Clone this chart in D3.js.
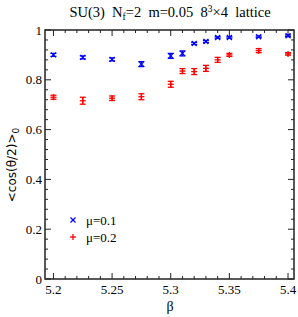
<!DOCTYPE html>
<html><head><meta charset="utf-8">
<script src="https://cdn.jsdelivr.net/npm/d3@7"></script>
<style>body{margin:0;background:#fff}svg{display:block}text,tspan{white-space:pre}</style>
</head><body>
<script>
const betas = [5.2, 5.225, 5.25, 5.275, 5.3, 5.31, 5.32, 5.33, 5.34, 5.35, 5.375, 5.4];
const mu01 = [0.900, 0.890, 0.882, 0.863, 0.896, 0.906, 0.946, 0.954, 0.970, 0.970, 0.973, 0.977];
const mu01Err = [0.006, 0.006, 0.006, 0.010, 0.010, 0.010, 0.004, 0.004, 0.003, 0.003, 0.003, 0.003];
const mu02 = [0.730, 0.716, 0.726, 0.732, 0.782, 0.835, 0.833, 0.846, 0.880, 0.900, 0.917, 0.904];
const mu02Err = [0.008, 0.014, 0.009, 0.012, 0.012, 0.010, 0.012, 0.012, 0.010, 0.006, 0.008, 0.005];
const xTicks = [5.2, 5.25, 5.3, 5.35, 5.4];
const xTickLabels = ["5.2", "5.25", "5.3", "5.35", "5.4"];
const yTicks = [0, 0.2, 0.4, 0.6, 0.8, 1];
const yTickLabels = ["0", "0.2", "0.4", "0.6", "0.8", "1"];

const W = 298, H = 317;
const L = 45, R = 294, T = 30, B = 279;
const svg = d3.select("body").append("svg").attr("width", W).attr("height", H);
const x = d3.scaleLinear().domain([5.1928, 5.4051]).range([L, R]);
const y = d3.scaleLinear().domain([0, 1]).range([B, T]);
const serif = "'Liberation Serif','Times New Roman',serif";

// ticks (inward, on all four sides)
const xMinor = d3.range(5.2, 5.4001, 0.01);
const yMinor = d3.range(0, 1.0001, 0.04);
const g = svg.append("g").attr("stroke", "#222").attr("stroke-width", 1);
xMinor.forEach(v => {
  const major = xTicks.some(t => Math.abs(t - v) < 1e-6);
  const len = major ? 6 : 3;
  g.append("line").attr("x1", x(v)).attr("x2", x(v)).attr("y1", B).attr("y2", B - len);
  g.append("line").attr("x1", x(v)).attr("x2", x(v)).attr("y1", T).attr("y2", T + len);
});
yMinor.forEach(v => {
  const major = yTicks.some(t => Math.abs(t - v) < 1e-6);
  const len = major ? 6 : 3;
  g.append("line").attr("x1", L).attr("x2", L + len).attr("y1", y(v)).attr("y2", y(v));
  g.append("line").attr("x1", R).attr("x2", R - len).attr("y1", y(v)).attr("y2", y(v));
});
svg.append("rect").attr("x", L).attr("y", T).attr("width", R - L).attr("height", B - T)
  .attr("fill", "none").attr("stroke", "#222").attr("stroke-width", 1.5);

// tick labels
xTicks.forEach((v, i) => {
  svg.append("text").attr("x", x(v)).attr("y", B + 15).attr("text-anchor", "middle")
    .attr("font-family", serif).attr("font-size", 13).text(xTickLabels[i]);
});
yTicks.forEach((v, i) => {
  svg.append("text").attr("x", L - 3).attr("y", y(v) + 4.5).attr("text-anchor", "end")
    .attr("font-family", serif).attr("font-size", 13).text(yTickLabels[i]);
});

// axis titles
svg.append("text").attr("x", 170).attr("y", 311).attr("text-anchor", "middle")
  .attr("font-family", serif).attr("font-size", 14).text("β");
const yl = svg.append("text").attr("transform", `translate(16,165) rotate(-90)`)
  .attr("text-anchor", "middle").attr("font-family", "'DejaVu Sans',sans-serif").attr("font-size", 12);
yl.append("tspan").text("<cos(θ/2)>");
yl.append("tspan").attr("font-size", 9).attr("dy", 3).text("0");

// title
const tt = svg.append("text").attr("x", 170).attr("y", 17).attr("text-anchor", "middle")
  .attr("font-family", serif).attr("font-size", 14.5);
tt.append("tspan").text("SU(3)  N");
tt.append("tspan").attr("font-size", 9.5).attr("dy", 3).text("f");
tt.append("tspan").attr("dy", -3).text("=2  m=0.05  8");
tt.append("tspan").attr("font-size", 9.5).attr("dy", -5).text("3");
tt.append("tspan").attr("dy", 5).text("×4  lattice");

// data
function drawMarker(sg, cx, cy, marker) {
  const s = 2.5;
  if (marker === "x") {
    sg.append("line").attr("x1", cx - s).attr("x2", cx + s).attr("y1", cy - s).attr("y2", cy + s);
    sg.append("line").attr("x1", cx - s).attr("x2", cx + s).attr("y1", cy + s).attr("y2", cy - s);
  } else {
    sg.append("line").attr("x1", cx - s - 0.5).attr("x2", cx + s + 0.5).attr("y1", cy).attr("y2", cy);
    sg.append("line").attr("x1", cx).attr("x2", cx).attr("y1", cy - s - 0.5).attr("y2", cy + s + 0.5);
  }
}
function series(vals, errs, color, marker) {
  const sg = svg.append("g").attr("stroke", color).attr("stroke-width", 1.3);
  betas.forEach((b, i) => {
    const cx = x(b), cy = y(vals[i]);
    const y1 = y(vals[i] - errs[i]), y2 = y(vals[i] + errs[i]);
    sg.append("line").attr("x1", cx).attr("x2", cx).attr("y1", y1).attr("y2", y2);
    sg.append("line").attr("x1", cx - 3).attr("x2", cx + 3).attr("y1", y1).attr("y2", y1);
    sg.append("line").attr("x1", cx - 3).attr("x2", cx + 3).attr("y1", y2).attr("y2", y2);
    drawMarker(sg, cx, cy, marker);
  });
}
series(mu01, mu01Err, "#0000ff", "x");
series(mu02, mu02Err, "#ff0000", "+");

// legend
const legendLabels = ["μ=0.1", "μ=0.2"];
const legendColors = ["#0000ff", "#ff0000"];
const legendMarkers = ["x", "+"];
legendLabels.forEach((lab, i) => {
  const ly = 220 + i * 17;
  const lg = svg.append("g").attr("stroke", legendColors[i]).attr("stroke-width", 1.3);
  drawMarker(lg, 73, ly, legendMarkers[i]);
  svg.append("text").attr("x", 86).attr("y", ly + 4.5).attr("font-family", serif)
    .attr("font-size", 13).text(lab);
});
</script>
</body></html>
